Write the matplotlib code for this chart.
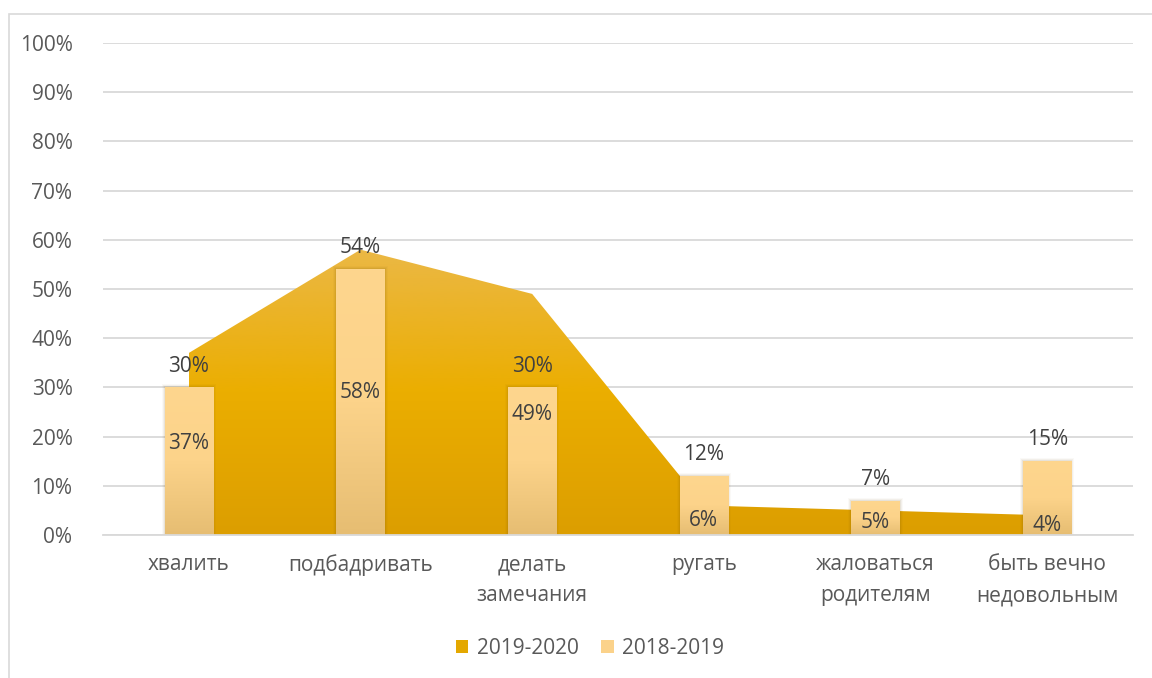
import numpy as np
import matplotlib.pyplot as plt
from matplotlib.patches import Polygon, Rectangle
from matplotlib.colors import LinearSegmentedColormap

plt.rcParams['font.family'] = ['Open Sans', 'DejaVu Sans']

categories = ['хвалить', 'подбадривать', 'делать\nзамечания', 'ругать',
              'жаловаться\nродителям', 'быть вечно\nнедовольным']
area_vals = [37, 58, 49, 6, 5, 4]      # 2019-2020
bar_vals = [30, 54, 30, 12, 7, 15]     # 2018-2019
yticks = np.arange(0, 101, 10)

area_cmap = LinearSegmentedColormap.from_list('a', ['#DC9E00', '#EBAE00', '#EBB845'])
bar_cmap = LinearSegmentedColormap.from_list('b', ['#E6BD72', '#FCD38A', '#FED68E'])

fig = plt.figure(figsize=(11.52, 6.78), dpi=100)
ax = fig.add_axes([103 / 1152, 1 - 535 / 678, 1030 / 1152, 492 / 678])

x = np.arange(len(categories))

# area series with vertical gradient
verts = [(x[0], 0)] + list(zip(x, area_vals)) + [(x[-1], 0)]
poly = Polygon(verts, closed=True, facecolor='none', edgecolor='none')
ax.add_patch(poly)
grad = np.linspace(0, 1, 256).reshape(-1, 1)
im = ax.imshow(grad, cmap=area_cmap, origin='lower', aspect='auto',
               extent=[x[0], x[-1], 0, max(area_vals)], zorder=2)
im.set_clip_path(poly)

# bars with gradient and soft shadow
w = 0.28
for xi, v in zip(x, bar_vals):
    for k, a in enumerate([0.08, 0.05, 0.03]):
        d = 0.006 * (k + 1)
        ax.add_patch(Rectangle((xi - w / 2 - d, 0), w + 2 * d, v + 0.2 * (k + 1),
                               facecolor='#6a4a00', alpha=a, edgecolor='none', zorder=3))
    r = Rectangle((xi - w / 2, 0), w, v, facecolor='none', edgecolor='none', zorder=4)
    ax.add_patch(r)
    bi = ax.imshow(grad, cmap=bar_cmap, origin='lower', aspect='auto',
                   extent=[xi - w / 2, xi + w / 2, 0, v], zorder=4)
    bi.set_clip_path(r)
    ax.text(xi, v + 2.2, f'{v}%', ha='center', va='bottom', fontsize=15,
            color='#404040', zorder=6)

for xi, v in zip(x, area_vals):
    ax.text(xi, v / 2, f'{v}%', ha='center', va='center', fontsize=15,
            color='#404040', zorder=6)

ax.set_xlim(-0.5, len(categories) - 0.5)
ax.set_ylim(0, 100)
ax.set_yticks(yticks)
ax.set_yticklabels([f'{t}%' for t in yticks])
ax.set_xticks(x)
ax.set_xticklabels(categories, linespacing=1.6)
ax.tick_params(axis='both', length=0, labelsize=15, colors='#595959')
ax.tick_params(axis='y', pad=22)
ax.tick_params(axis='x', pad=14)
ax.grid(axis='y', color='#D9D9D9', linewidth=1.3, zorder=0)
ax.set_axisbelow(True)
for s in ['top', 'right', 'left']:
    ax.spines[s].set_visible(False)
ax.spines['bottom'].set_color('#D9D9D9')
ax.spines['bottom'].set_linewidth(1.3)
ax.spines['bottom'].set_zorder(5)

# legend
h1 = Rectangle((0, 0), 1, 1, facecolor='#E4A800', edgecolor='none')
h2 = Rectangle((0, 0), 1, 1, facecolor='#FBD28A', edgecolor='none')
fig.legend([h1, h2], ['2019-2020', '2018-2019'], loc='center',
           bbox_to_anchor=(590 / 1152, 1 - 648 / 678), ncol=2, frameon=False,
           fontsize=15, labelcolor='#595959', handlelength=0.6, handleheight=0.6,
           columnspacing=1.1, handletextpad=0.4)

# chart border
fig.add_artist(Rectangle((9 / 1152, -0.01), 1.02, 1 - 14 / 678 + 0.01,
                         transform=fig.transFigure, facecolor='none',
                         edgecolor='#D9D9D9', linewidth=1.2))

fig.savefig('out.png', dpi=100)
